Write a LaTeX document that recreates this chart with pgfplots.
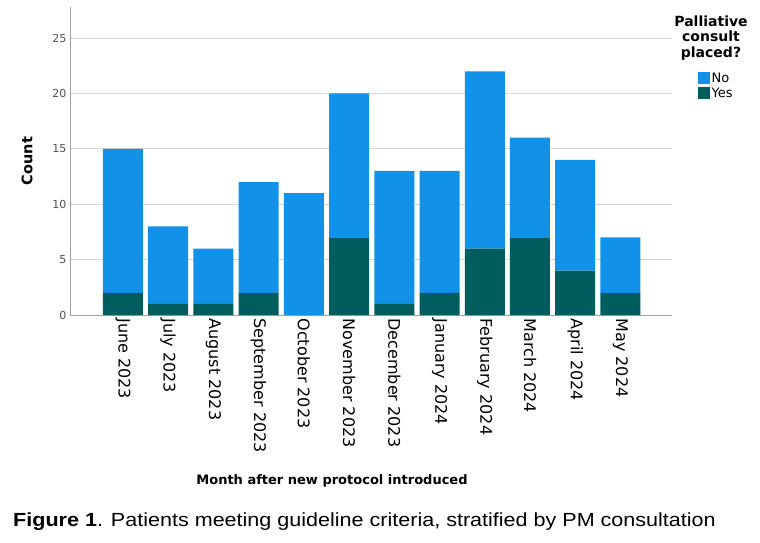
\documentclass[border=0pt]{standalone}
\usepackage{pgfplots}
\pgfplotsset{compat=1.18}
\usepackage{fontspec}
\setmainfont{DejaVu Sans}
\newfontfamily\capfont{Liberation Sans}
\definecolor{noblue}{HTML}{1192E8}
\definecolor{yesteal}{HTML}{005D5D}
\definecolor{gridgray}{HTML}{D6D6D6}
\definecolor{axisgray}{HTML}{A0A0A0}
\definecolor{ticktext}{HTML}{505050}

\begin{document}
\begin{tikzpicture}
\useasboundingbox (0pt,0pt) rectangle (760pt,-542pt);
\begin{axis}[
  at={(70pt,-315pt)}, anchor=south west,
  scale only axis, width=602pt, height=308pt,
  xmin=-1.17, xmax=12.14, ymin=0, ymax=27.8,
  ybar stacked, bar width=40pt,
  axis x line*=bottom, axis y line*=left,
  axis line style={axisgray, line width=0.9pt, -},
  ytick={0,5,...,25}, ymajorgrids,
  grid style={gridgray, line width=0.9pt},
  xtick={0,...,11},
  xticklabels={June 2023, July 2023, August 2023, September 2023,
    October 2023, November 2023, December 2023, January 2024,
    February 2024, March 2024, April 2024, May 2024},
  x tick label style={rotate=-90, anchor=west,
    font=\fontsize{16}{16}\selectfont},
  y tick label style={font=\fontsize{11}{11}\selectfont, text=ticktext},
  /pgf/number format/assume math mode=true,
  major tick length=0pt,
  legend style={at={(1.043,0.79)}, anchor=north west, draw=none,
    fill=none, font=\fontsize{13}{13}\selectfont, row sep=1pt,
    inner sep=0pt, nodes={inner sep=1.5pt}},
  legend cell align=left,
  reverse legend,
  legend image code/.code={\fill[#1] (0pt,-5pt) rectangle (12pt,7pt);},
]
% consult placed (bottom segment)
\addplot[fill=yesteal, draw=none] coordinates {
  (0,2) (1,1) (2,1) (3,2) (4,0) (5,7) (6,1) (7,2) (8,6) (9,7) (10,4) (11,2)};
% no consult (top segment)
\addplot[fill=noblue, draw=none] coordinates {
  (0,13) (1,7) (2,5) (3,10) (4,11) (5,13) (6,12) (7,11) (8,16) (9,9) (10,10) (11,5)};
\legend{Yes, No}
\end{axis}
\node[rotate=90, font=\fontsize{14.5}{14.5}\selectfont\bfseries] at (27pt,-161pt) {Count};
\node[font=\fontsize{13}{13}\selectfont\bfseries] at (332pt,-481pt) {Month after new protocol introduced};
\node[align=center, font=\fontsize{14}{15.5}\selectfont\bfseries] at (711pt,-38pt)
  {Palliative\\consult\\placed?};
\node[xscale=1.134, font=\fontsize{19}{19}\selectfont\capfont] at (364.5pt,-522pt)
  {\textbf{Figure 1}. Patients meeting guideline criteria, stratified by PM consultation};
\end{tikzpicture}
\end{document}
